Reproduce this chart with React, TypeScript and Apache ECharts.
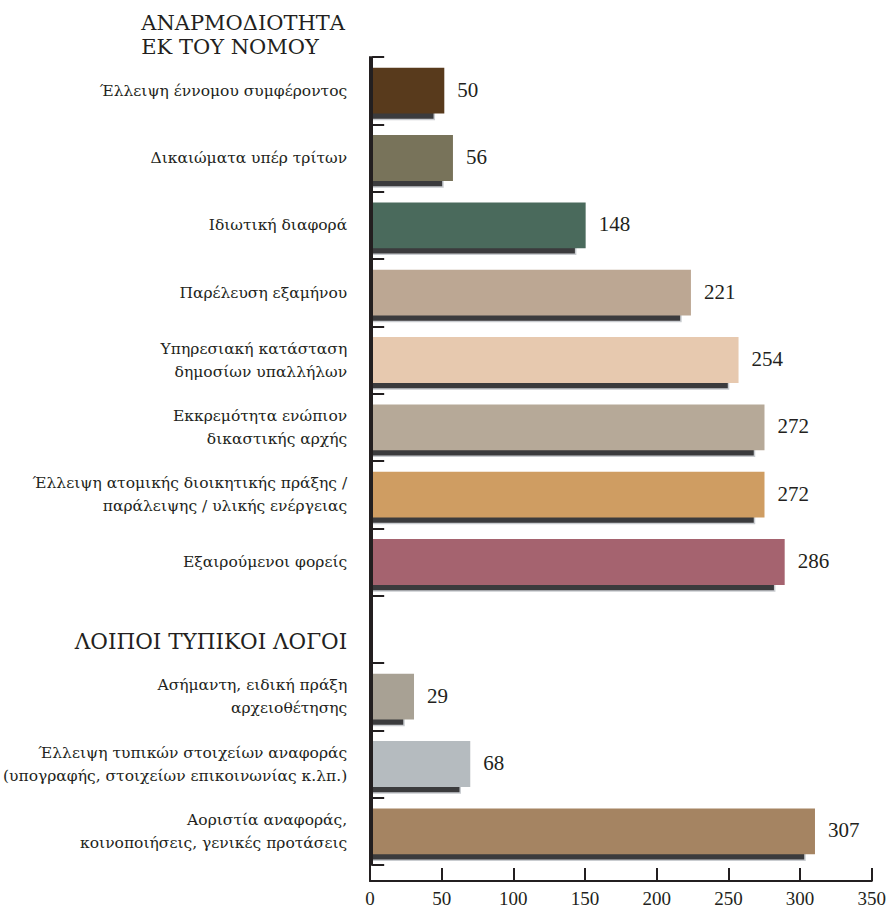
import React, { useEffect, useRef } from "react";
import * as echarts from "echarts";

const categories: string[] = [
  "Έλλειψη έννομου συμφέροντος",
  "Δικαιώματα υπέρ τρίτων",
  "Ιδιωτική διαφορά",
  "Παρέλευση εξαμήνου",
  "Υπηρεσιακή κατάσταση\nδημοσίων υπαλλήλων",
  "Εκκρεμότητα ενώπιον\nδικαστικής αρχής",
  "Έλλειψη ατομικής διοικητικής πράξης /\nπαράλειψης / υλικής ενέργειας",
  "Εξαιρούμενοι φορείς",
  "ΛΟΙΠΟΙ ΤΥΠΙΚΟΙ ΛΟΓΟΙ",
  "Ασήμαντη, ειδική πράξη\nαρχειοθέτησης",
  "Έλλειψη τυπικών στοιχείων αναφοράς\n(υπογραφής, στοιχείων επικοινωνίας κ.λπ.)",
  "Αοριστία αναφοράς,\nκοινοποιήσεις, γενικές προτάσεις",
];

const values: (number | null)[] = [50, 56, 148, 221, 254, 272, 272, 286, null, 29, 68, 307];

const barColors: string[] = [
  "#583a1c",
  "#78735a",
  "#4a6a5c",
  "#bca793",
  "#e7c9af",
  "#b6a998",
  "#cf9d62",
  "#a5636f",
  "#ffffff",
  "#a8a194",
  "#b5bbbf",
  "#a58462",
];

const sectionTitle = "ΑΝΑΡΜΟΔΙΟΤΗΤΑ\nΕΚ ΤΟΥ ΝΟΜΟΥ";
const headerCategory = "ΛΟΙΠΟΙ ΤΥΠΙΚΟΙ ΛΟΓΟΙ";
const xTicks = { min: 0, max: 350, interval: 50 };

const FONT = "Liberation Serif";
const GREEK = "DejaVu Serif";
const INK = "#231f20";

export default function App() {
  const ref = useRef<HTMLDivElement>(null);

  useEffect(() => {
    if (!ref.current) return;
    const chart = echarts.init(ref.current, undefined, { renderer: "svg" });

    const data = values
      .map((v, i) => (v == null ? null : { value: [v, i] }))
      .filter((d) => d !== null) as { value: number[] }[];

    const option: any = {
      animation: false,
      backgroundColor: "#ffffff",
      graphic: [
        {
          type: "text",
          right: 544,
          top: 11,
          style: {
            text: sectionTitle,
            align: "right",
            fontFamily: GREEK,
            fontSize: 21,
            lineHeight: 24,
            fill: INK,
          },
        },
      ],
      grid: [
        { left: 370, right: 12, top: 57, bottom: 48 },
        { left: 370, right: 12, top: 57, bottom: 32 },
      ],
      xAxis: [
        {
          type: "value",
          gridIndex: 0,
          min: xTicks.min,
          max: xTicks.max,
          interval: xTicks.interval,
          show: false,
        },
        {
          type: "value",
          gridIndex: 1,
          min: xTicks.min,
          max: xTicks.max,
          interval: xTicks.interval,
          axisLine: { show: true, lineStyle: { color: INK, width: 2 } },
          axisTick: { show: true, inside: true, length: 13, lineStyle: { color: INK, width: 2 } },
          axisLabel: { color: INK, fontFamily: FONT, fontSize: 19, margin: 8 },
          splitLine: { show: false },
        },
      ],
      yAxis: [
        {
          type: "category",
          gridIndex: 0,
          inverse: true,
          z: 10,
          data: categories,
          boundaryGap: true,
          axisLine: { show: true, lineStyle: { color: INK, width: 2 } },
          axisTick: {
            show: true,
            inside: true,
            interval: 0,
            length: 12,
            lineStyle: { color: INK, width: 2 },
          },
          axisLabel: {
            color: INK,
            fontFamily: GREEK,
            fontSize: 15.5,
            lineHeight: 23,
            margin: 25,
            interval: 0,
            align: "right",
            formatter: (v: string) => (v === headerCategory ? `{h|${v}}` : v),
            rich: {
              h: { fontFamily: GREEK, fontSize: 21.5, color: INK, padding: [24, 0, 0, 0] },
            },
          },
          splitLine: { show: false },
        },
        {
          type: "value",
          gridIndex: 1,
          min: 0,
          max: 1,
          axisLine: { show: true, onZero: false, lineStyle: { color: INK, width: 2 } },
          axisTick: { show: false },
          axisLabel: { show: false },
          splitLine: { show: false },
        },
      ],
      series: [
        {
          type: "custom",
          xAxisIndex: 0,
          yAxisIndex: 0,
          encode: { x: 0, y: 1 },
          data,
          z: 1,
          renderItem: (params: any, api: any) => {
            const v = api.value(0);
            const cat = api.value(1);
            const start = api.coord([0, cat]);
            const end = api.coord([v, cat]);
            const band = api.size([0, 1])[1];
            const h = band * 0.68;
            const cy = end[1];
            const top = cy - h / 2;
            const color = barColors[cat];
            const shadowW = Math.max(0, end[0] - start[0] - 10);
            return {
              type: "group",
              children: [
                {
                  type: "rect",
                  shape: { x: start[0], y: top + 6, width: shadowW, height: h },
                  style: { fill: "#3b3b3d", stroke: "#c9ccd0", lineWidth: 1.5 },
                },
                {
                  type: "rect",
                  shape: { x: start[0], y: top, width: end[0] - start[0], height: h },
                  style: { fill: color },
                },
                {
                  type: "text",
                  x: end[0] + 13,
                  y: cy - 1,
                  style: {
                    text: String(v),
                    fontFamily: FONT,
                    fontSize: 21,
                    fill: INK,
                    verticalAlign: "middle",
                    align: "left",
                  },
                },
              ],
            };
          },
        },
      ],
    };

    chart.setOption(option);
    return () => chart.dispose();
  }, []);

  return (
    <div
      ref={ref}
      style={{ position: "fixed", left: 0, top: 0, width: 889, height: 913, background: "#fff" }}
    />
  );
}
